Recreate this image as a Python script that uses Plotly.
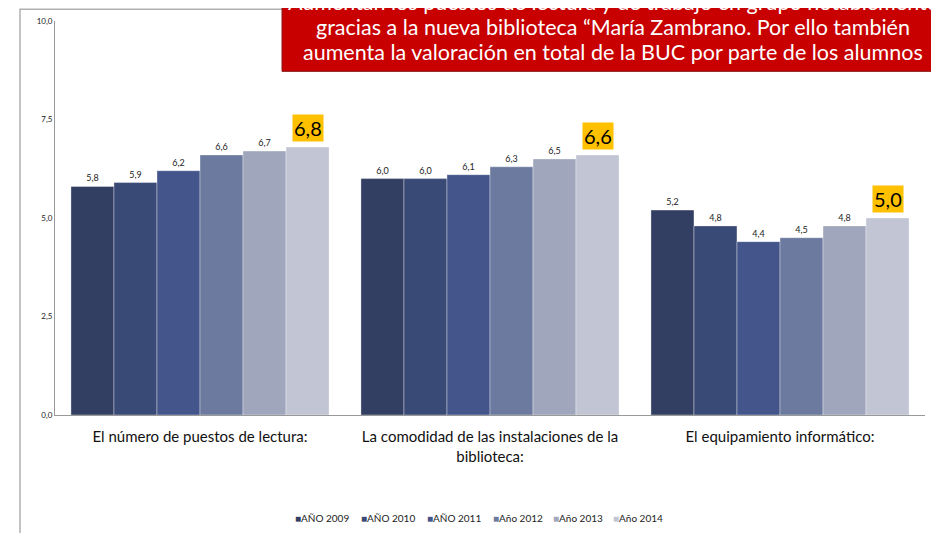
import plotly.graph_objects as go

# ---------------- data ----------------
categories = [
    "El número de puestos de lectura:",
    "La comodidad de las instalaciones de la<br>biblioteca:",
    "El equipamiento informático:",
]
series_names = ["AÑO 2009", "AÑO 2010", "AÑO 2011", "Año 2012", "Año 2013", "Año 2014"]
v2009 = [5.8, 6.0, 5.2]
v2010 = [5.9, 6.0, 4.8]
v2011 = [6.2, 6.1, 4.4]
v2012 = [6.6, 6.3, 4.5]
v2013 = [6.7, 6.5, 4.8]
v2014 = [6.8, 6.6, 5.0]
series_values = [v2009, v2010, v2011, v2012, v2013, v2014]
y_ticks = [0, 2.5, 5, 7.5, 10]
y_ticktext = ["0,0", "2,5", "5,0", "7,5", "10,0"]
box_lines = [
    "Aumentan los puestos de lectura y de trabajo en grupo notablemente",
    "gracias a la nueva biblioteca “María Zambrano. Por ello también",
    "aumenta la valoración en total de la BUC por parte de los alumnos",
]

# ---------------- style ----------------
colors = ["#323F63", "#3A4A76", "#43558A", "#6C7A9F", "#A0A6BC", "#C2C5D3"]
FONT = "Lato"
OFF = 8  # page body margin
W, H = 939 - OFF, 533 - OFF
# plot area in page pixels: x 55..925, y 16..415
ML, MR, MT, MB = 55 - OFF, 939 - 925, 16 - OFF, 533 - 415
PW, PH = W - ML - MR, H - MT - MB


def px_x(x):  # page pixel -> paper
    return (x - OFF - ML) / PW


def px_y(y):
    return (H - MB - (y - OFF)) / PH


fig = go.Figure()
n = len(series_names)
for i, (name, vals, col) in enumerate(zip(series_names, series_values, colors)):
    last = i == n - 1
    fig.add_trace(go.Bar(
        name=name, x=categories, y=vals,
        marker=dict(color=col, line=dict(color="rgba(255,255,255,0.35)", width=1)),
        texttemplate=None if last else "%{y:.1f}",
        textposition="outside",
        textfont=dict(family=FONT, size=9, color="#222222"),
        cliponaxis=False,
        showlegend=False,
    ))

bargap = 0.11
bar_px = PW / len(categories) * (1 - bargap) / n
offset_last = (n - 1 - (n - 1) / 2) * bar_px

annotations = []
# highlighted 2014 labels
for c, v in zip(categories, v2014):
    annotations.append(dict(
        x=c, y=v, xref="x", yref="y", xshift=offset_last, yshift=5,
        text=f"{v:.1f}".replace(".", ","), showarrow=False,
        yanchor="bottom", xanchor="center",
        font=dict(family=FONT, size=20, color="#000000"),
        bgcolor="#FFC000", borderpad=1,
    ))

# manual legend
legend_px = [295, 361, 427, 493, 553, 613]
for name, col, lx in zip(series_names, colors, legend_px):
    annotations.append(dict(
        x=px_x(lx - 2), y=px_y(519), xref="paper", yref="paper",
        text=f"<span style='color:{col}'>■</span>{name}", showarrow=False,
        xanchor="left", yanchor="middle",
        font=dict(family=FONT, size=10, color="#222222"),
    ))

# red box text, one annotation per line
box_line_y = [-3, 22, 47]
for line, ly in zip(box_lines, box_line_y):
    annotations.append(dict(
        x=px_x(613), y=px_y(ly), xref="paper", yref="paper",
        text=line, showarrow=False,
        xanchor="center", yanchor="middle", align="center",
        font=dict(family=FONT, size=21.5, color="#FFFFFF"),
    ))

shapes = [
    # outer frame
    dict(type="rect", xref="paper", yref="paper",
         x0=px_x(20), x1=px_x(936), y0=px_y(560), y1=px_y(4),
         line=dict(color="#B0B0B0", width=1.5), fillcolor="rgba(0,0,0,0)", layer="below"),
    # red box
    dict(type="rect", xref="paper", yref="paper",
         x0=px_x(282), x1=px_x(945), y0=px_y(67), y1=px_y(-20),
         line=dict(color="#8C1A1A", width=1), fillcolor="#C80000", layer="above"),
]

fig.update_layout(
    width=W, height=H,
    margin=dict(l=ML, r=MR, t=MT, b=MB),
    barmode="group", bargap=bargap, bargroupgap=0,
    separators=",.",
    plot_bgcolor="white", paper_bgcolor="white",
    font=dict(family=FONT, color="#222222"),
    showlegend=False,
    annotations=annotations,
    shapes=shapes,
    xaxis=dict(
        showline=True, linecolor="#999999", linewidth=1,
        showgrid=False, ticks="", ticklabelstandoff=8,
        tickfont=dict(family=FONT, size=15, color="#111111"),
    ),
    yaxis=dict(
        range=[0, 10], tickvals=y_ticks, ticktext=y_ticktext,
        showline=True, linecolor="#999999", linewidth=1,
        showgrid=False, zeroline=False, ticks="",
        tickfont=dict(family=FONT, size=8, color="#222222"),
    ),
)

fig.write_html("out.html")
